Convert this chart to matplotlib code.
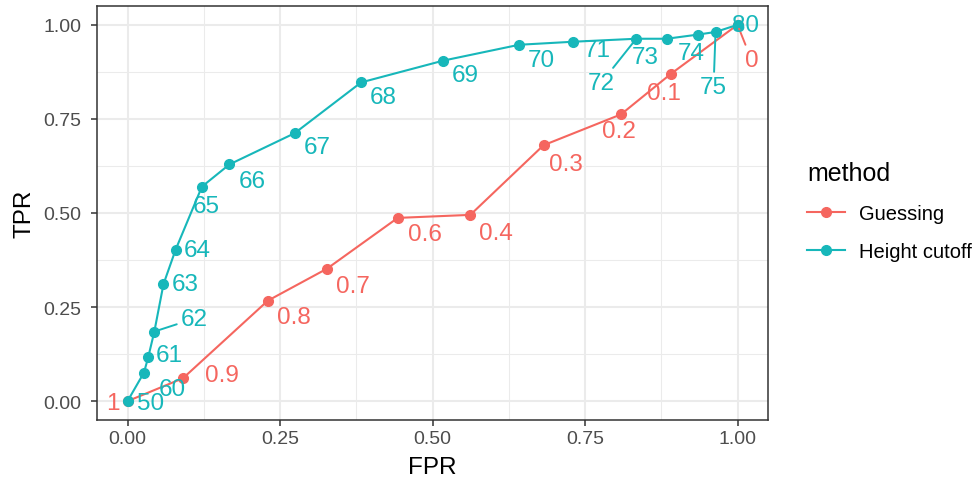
import matplotlib
matplotlib.use("Agg")
import matplotlib.pyplot as plt
from matplotlib.lines import Line2D

plt.rcParams["font.family"] = ["Liberation Sans", "DejaVu Sans"]

# ROC points for the two methods
height_cutoffs = ["50", "60", "61", "62", "63", "64", "65", "66", "67", "68",
                  "69", "70", "71", "72", "73", "74", "75", "80"]
height_fpr = [0.000, 0.027, 0.034, 0.044, 0.059, 0.079, 0.122, 0.167, 0.274, 0.383,
              0.518, 0.642, 0.730, 0.834, 0.884, 0.935, 0.964, 1.000]
height_tpr = [0.000, 0.076, 0.117, 0.185, 0.311, 0.403, 0.570, 0.629, 0.712, 0.847,
              0.905, 0.947, 0.955, 0.963, 0.963, 0.974, 0.981, 1.000]

guess_cutoffs = ["1", "0.9", "0.8", "0.7", "0.6", "0.4", "0.3", "0.2", "0.1", "0"]
guess_fpr = [0.000, 0.091, 0.230, 0.327, 0.443, 0.562, 0.682, 0.809, 0.891, 1.000]
guess_tpr = [0.000, 0.061, 0.267, 0.352, 0.487, 0.495, 0.680, 0.762, 0.870, 1.000]

# label offsets (pixels, like ggrepel placed them); segment drawn when flagged
height_off = [(23, -2), (28, -16), (21, 2), (40, 13), (22, 0), (22, 0), (4, -19),
              (23, -17), (23, -14), (22, -15), (22, -14), (22, -15), (24, -8),
              (-35, -44), (-21, -18), (-7, -18), (-2, -55), (8, 0)]
height_seg = {"62", "72", "75"}
guess_off = [(-15, -2), (39, 3), (26, -16), (26, -17), (27, -16), (26, -18),
             (22, -19), (-2, -17), (-7, -19), (14, -35)]
guess_seg = {"0"}

RED = "#F5665F"
CYAN = "#17B7BA"

fig = plt.figure(figsize=(9.77, 4.85), dpi=100)
ax = fig.add_axes([97 / 977, 1 - 421 / 485, (768 - 97) / 977, (421 - 7) / 485])

ax.plot(guess_fpr, guess_tpr, color=RED, lw=1.5, marker="o", ms=7, zorder=3)
ax.plot(height_fpr, height_tpr, color=CYAN, lw=1.5, marker="o", ms=7, zorder=3)


def put_labels(xs, ys, labs, offs, segs, color):
    for x, y, lab, (dx, dy) in zip(xs, ys, labs, offs):
        arrow = None
        if lab in segs:
            arrow = dict(arrowstyle="-", color=color, lw=1.4, shrinkA=1, shrinkB=3)
        ax.annotate(lab, (x, y), xytext=(dx, dy), textcoords="offset pixels",
                    ha="center", va="center", fontsize=17.5, color=color,
                    arrowprops=arrow, zorder=4)


put_labels(guess_fpr, guess_tpr, guess_cutoffs, guess_off, guess_seg, RED)
put_labels(height_fpr, height_tpr, height_cutoffs, height_off, height_seg, CYAN)

ax.set_xlim(-0.05, 1.05)
ax.set_ylim(-0.05, 1.05)
ticks = [0, 0.25, 0.5, 0.75, 1.0]
ax.set_xticks(ticks)
ax.set_yticks(ticks)
ax.set_xticklabels(["0.00", "0.25", "0.50", "0.75", "1.00"])
ax.set_yticklabels(["0.00", "0.25", "0.50", "0.75", "1.00"])
ax.set_xticks([0.125, 0.375, 0.625, 0.875], minor=True)
ax.set_yticks([0.125, 0.375, 0.625, 0.875], minor=True)
ax.grid(which="major", color="#EBEBEB", lw=1.5, zorder=0)
ax.grid(which="minor", color="#EBEBEB", lw=0.75, zorder=0)
ax.set_axisbelow(True)
ax.tick_params(which="major", length=4.5, width=1.1, color="#333333", pad=3,
               labelsize=14, labelcolor="#4D4D4D")
ax.tick_params(axis="y", pad=6.5)
ax.tick_params(which="minor", length=0)
for s in ax.spines.values():
    s.set_color("#333333")
    s.set_linewidth(1.1)

ax.set_xlabel("FPR", fontsize=17.5, labelpad=6)
ax.set_ylabel("TPR", fontsize=17.5, labelpad=6)

handles = [Line2D([], [], color=RED, lw=1.5, marker="o", ms=7),
           Line2D([], [], color=CYAN, lw=1.5, marker="o", ms=7)]
leg = fig.legend(handles, ["Guessing", "Height cutoff"], title="method",
                 loc="upper left", bbox_to_anchor=(789 / 977, 1 - 144 / 485),
                 frameon=False, fontsize=14.5, title_fontsize=18,
                 handlelength=1.9, labelspacing=0.95, handletextpad=0.7)
leg._legend_box.align = "left"

fig.savefig("out.png", dpi=100)
